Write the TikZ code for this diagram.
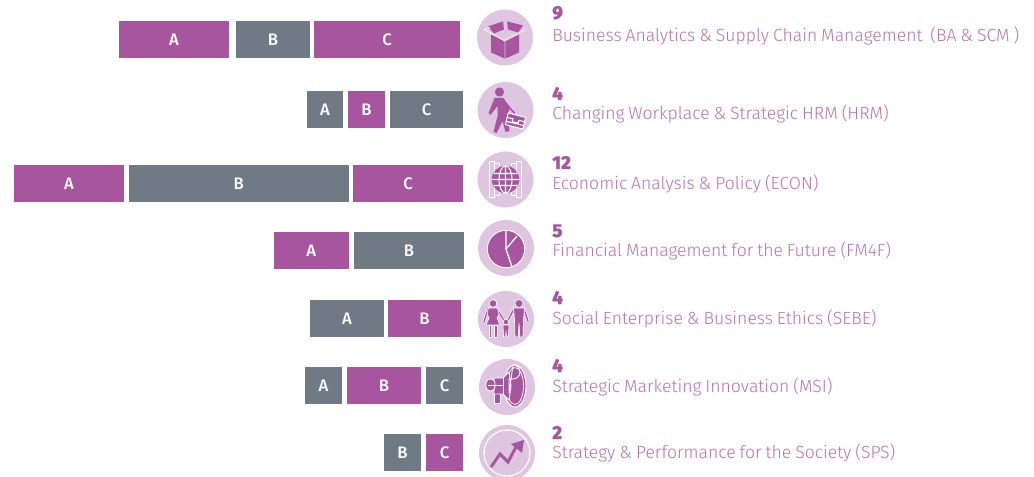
\documentclass[tikz,border=0pt]{standalone}
\usepackage{fontspec}
\setmainfont[WordSpace=0.8]{Fira Sans Light}
\newfontfamily\barfont{Fira Sans Medium}
\newfontfamily\numfont[FakeBold=0.8]{Fira Sans ExtraBold}
\definecolor{purp}{HTML}{A6559E}
\definecolor{labelc}{HTML}{B673AE}
\definecolor{slate}{HTML}{6F7A84}
\definecolor{disc}{HTML}{DEC5E0}
\tikzset{
  x=0.75pt,y=-0.75pt,
  barbox/.style={anchor=north west,inner sep=0,outer sep=0,minimum height=27.75pt,text=white,font=\barfont\fontsize{12.5}{14}\selectfont},
  pbar/.style={barbox,fill=purp},
  gbar/.style={barbox,fill=slate},
  discnode/.style={circle,fill=disc,inner sep=0,minimum size=42pt},
  numtext/.style={anchor=base west,inner sep=0,text=purp,font=\numfont\fontsize{14}{15}\selectfont},
  labeltext/.style={anchor=base west,inner sep=0,text=labelc,font=\fontsize{13.2}{15}\selectfont},
  wline/.style={draw=white,line width=0.5pt,line join=round},
}
\begin{document}
\begin{tikzpicture}
\useasboundingbox (0,0) rectangle (1034,477);
\begin{scope}
\clip (0,0) rectangle (1034,477);
% bars
\def\mk#1#2#3#4#5#6{\node[#1,minimum width=#4*0.75pt-#3*0.75pt] (#2) at (#3,#5) {#6};}
\mk{pbar}{r1a}{119}{229}{21}{A}\mk{gbar}{r1b}{236}{310}{21}{B}\mk{pbar}{r1c}{314}{460}{21}{C}
\mk{gbar}{r2a}{307}{343}{91}{A}\mk{pbar}{r2b}{348}{385}{91}{B}\mk{gbar}{r2c}{390}{463}{91}{C}
\mk{pbar}{r3a}{14}{124}{165}{A}\mk{gbar}{r3b}{129}{348.5}{165}{B}\mk{pbar}{r3c}{353}{463}{165}{C}
\mk{pbar}{r4a}{274}{348.5}{232}{A}\mk{gbar}{r4b}{354}{464}{232}{B}
\mk{gbar}{r5a}{310}{384}{300}{A}\mk{pbar}{r5b}{388}{461}{300}{B}
\mk{gbar}{r6a}{305}{342}{367}{A}\mk{pbar}{r6b}{347}{421}{367}{B}\mk{gbar}{r6c}{426}{463}{367}{C}
\mk{gbar}{r7b}{384}{421}{434}{B}\mk{pbar}{r7c}{426}{463}{434}{C}
% discs
\node[discnode] (d1) at (505,37.5) {};
\node[discnode] (d2) at (505.5,110) {};
\node[discnode] (d3) at (505.5,179.5) {};
\node[discnode] (d4) at (506,248) {};
\node[discnode] (d5) at (506,319) {};
\node[discnode] (d6) at (507,387) {};
\node[discnode] (d7) at (507,453) {};
% box icon
\begin{scope}[shift={(d1.center)}]
\fill[purp] (-14,-3) -- (-0.3,4) -- (-0.3,21) -- (-14,15) -- cycle;
\fill[purp] (14,-3) -- (0.3,4) -- (0.3,21) -- (14,15) -- cycle;
\fill[purp] (-17,-11) -- (-2,-16) -- (-1,-8) -- (-11,-4) -- cycle;
\fill[purp] (2,-16) -- (18,-12) -- (13,-5) -- (3,-8) -- cycle;
\draw[wline] (-21,-8) -- (-1,3) -- (21,-8) (-21,-8) -- (-15,-10) (21,-8) -- (15,-5);
\end{scope}
% walker icon
\begin{scope}[shift={(d2.center)}]
\fill[purp] (-6,-18) circle (4.6);
\fill[purp] (-11,-12) -- (-2,-12) -- (4,-2) -- (2,6) -- (4,21) -- (0,22) -- (-3,11) -- (-9,23) -- (-12,22) -- (-8,6) -- (-8,-4) -- (-15,5) -- (-17,3) -- cycle;
\draw[purp,line width=1.3pt,line cap=round] (-2,-10) -- (5,-1) -- (9,3);
\begin{scope}[shift={(10,11)},rotate=-14]
\fill[purp] (-9,-6) rectangle (9,6);
\draw[wline,line width=0.8pt] (-9,-1.5) -- (-3,-1.5) -- (-3,1.5) -- (3,1.5) -- (3,-1.5) -- (9,-1.5) (-9,2.5) -- (9,2.5) (-9,-6) rectangle (9,6);
\end{scope}
\end{scope}
% globe icon
\begin{scope}[shift={(d3.center)}]
\draw[white,line width=0.7pt] (-16,-18) rectangle (-11,18) (11,-18) rectangle (16,18);
\draw[white,line width=0.7pt] (-11,-16) -- (-6,-16) -- (-6,-13) (-11,16) -- (-6,16) -- (-6,13) (11,-16) -- (6,-16) -- (6,-13) (11,16) -- (6,16) -- (6,13);
\fill[purp] (0,0) circle (13.7);
\draw[white,line width=0.8pt] (0,0) ellipse (6.5 and 13.7) (0,-13.7) -- (0,13.7)
  (-13.7,0) -- (13.7,0) (-12,-6) -- (12,-6) (-12,6) -- (12,6);
\end{scope}
% pie icon
\begin{scope}[shift={(d4.center)}]
\fill[purp] (0,1) circle (18.7);
\draw[white,line width=0.7pt] (0,1) circle (18.7);
\draw[white,line width=1pt] (0,1) -- (11,-12);
\draw[white,line width=1pt] (0,-17) -- (0,1) -- (6,19);
\end{scope}
% family icon
\begin{scope}[shift={(d5.center)}]
\tikzset{fam/.style={fill=purp,draw=white,line width=0.5pt,line join=round}}
\draw[white,line width=2pt,line cap=round] (-18,-10) -- (-22,3) (-9,-10) -- (-1,3);
\draw[purp,line width=1pt,line cap=round] (-18,-10) -- (-22,3) (-9,-10) -- (-1,3);
\draw[white,line width=2pt,line cap=round] (8,-10) -- (1,3) (18,-10) -- (22,2);
\draw[purp,line width=1pt,line cap=round] (8,-10) -- (1,3) (18,-10) -- (22,2);
\draw[fam] (-13,-15.5) circle (3.8);
\draw[fam] (-17.5,-11) -- (-8.5,-11) -- (-7,-5) -- (-9,-1) -- (-6,6) -- (-20,6) -- (-17,-1) -- (-19,-5) -- cycle;
\draw[fam] (-17,6) rectangle (-14.3,18) (-11.7,6) rectangle (-9,18);
\draw[fam] (13,-15.5) circle (4);
\draw[fam] (7.5,-11) -- (18.5,-11) -- (17.5,1) -- (17,18) -- (13.8,18) -- (13,4) -- (12.2,18) -- (9,18) -- (8.5,1) -- cycle;
\draw[fam] (0,3) circle (2.8);
\draw[fam] (-3,6) -- (3,6) -- (2.5,18) -- (0.4,18) -- (0,12) -- (-0.4,18) -- (-2.5,18) -- cycle;
\end{scope}
% megaphone icon
\begin{scope}[shift={(d6.center)}]
\tikzset{meg/.style={fill=purp,draw=white,line width=0.7pt,line join=round}}
\draw[meg] (8,-1) ellipse (11 and 21);
\draw[white,line width=0.6pt] (8,-1) ellipse (8.5 and 18.5);
\draw[meg] (-13,3) rectangle (-7,16);
\draw[meg] (-13,-9) -- (-4,-9) -- (2,-15) -- (4,-1) -- (2,13) -- (-4,7) -- (-13,7) -- cycle;
\draw[meg,rounded corners=3pt] (-21,-8) rectangle (-12,4);
\draw[white,line width=0.7pt] (-19,-2) -- (-4,-2);
\draw[white,line width=0.7pt] (2,-8) -- (6,-8) arc (90:-90:7) -- (2,6) -- cycle;
\draw[white,line width=0.7pt] (-4,-9) -- (-4,7);
\end{scope}
% chart icon
\begin{scope}[shift={(d7.center)}]
\draw[white,line width=0.9pt] (0,0) circle (23);
\draw[purp,line width=2.2pt,line join=miter] (-16,14) -- (-7,1) -- (1,9) -- (9,-6);
\fill[purp] (4,-9) -- (17,-13) -- (15,0) -- cycle;
\end{scope}
\end{scope}
% texts
\node[numtext] (n1) at (552,19) {9};
\node[labeltext] (l1) at (552,41.8) {Business Analytics \& Supply Chain Management\ \ (BA \& SCM )};
\node[numtext] (n2) at (552,100) {4};
\node[labeltext] (l2) at (552,119.8) {Changing Workplace \& Strategic HRM (HRM)};
\node[numtext] (n3) at (552,169) {12};
\node[labeltext] (l3) at (552,189.4) {Economic Analysis \& Policy (ECON)};
\node[numtext] (n4) at (552,237) {5};
\node[labeltext] (l4) at (552,256.8) {Financial Management for the Future (FM4F)};
\node[numtext] (n5) at (552,304) {4};
\node[labeltext] (l5) at (552,324) {Social Enterprise \& Business Ethics (SEBE)};
\node[numtext] (n6) at (552,372) {4};
\node[labeltext] (l6) at (552,392) {Strategic Marketing Innovation (MSI)};
\node[numtext] (n7) at (552,439) {2};
\node[labeltext] (l7) at (552,458) {Strategy \& Performance for the Society (SPS)};
\end{tikzpicture}
\end{document}
